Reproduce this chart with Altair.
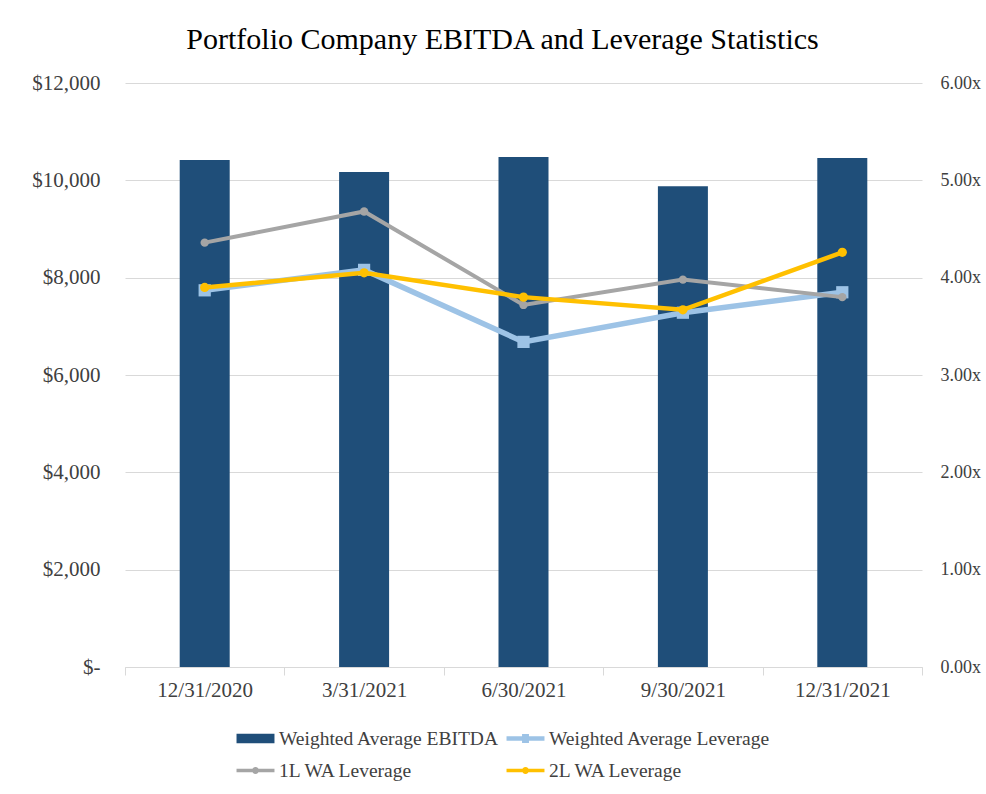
import altair as alt
import pandas as pd

dates = ["12/31/2020", "3/31/2021", "6/30/2021", "9/30/2021", "12/31/2021"]
ebitda = [10420, 10170, 10480, 9880, 10460]
wa_lev = [3.87, 4.08, 3.34, 3.64, 3.85]
lev_1l = [4.36, 4.68, 3.72, 3.98, 3.80]
lev_2l = [3.90, 4.05, 3.80, 3.67, 4.26]

series = ["Weighted Average EBITDA", "Weighted Average Leverage", "1L WA Leverage", "2L WA Leverage"]
colors = ["#1F4E79", "#9DC3E6", "#A5A5A5", "#FFC000"]

df = pd.DataFrame({
    "date": dates,
    "ebitda": ebitda,
    "wa": wa_lev,
    "l1": lev_1l,
    "l2": lev_2l,
})
legend_df = pd.DataFrame({"series": series})

FONT = "Liberation Serif"
LABEL_COLOR = "#404040"
GRID = "#D9D9D9"

x_enc = alt.X(
    "date:N",
    sort=dates,
    scale=alt.Scale(paddingInner=0, paddingOuter=0),
    axis=alt.Axis(
        title=None, labelAngle=0, labelFont=FONT, labelFontSize=21, labelColor=LABEL_COLOR,
        tickBand="extent", ticks=True, tickSize=8, tickColor=GRID, domainColor=GRID,
        labelPadding=4, grid=False,
    ),
)

# legend symbol paths (unit = sqrt(symbolSize)/2 px)
shape_paths = [
    "M-1.65,-0.42H1.65V0.42H-1.65Z",
    "M-1.65,-0.2H1.65V0.2H-1.65Z M-0.3,-0.4H0.3V0.4H-0.3Z",
    "M-1.65,-0.15H1.65V0.15H-1.65Z M-0.3,0A0.3,0.3 0 1,1 0.3,0A0.3,0.3 0 1,1 -0.3,0Z",
    "M-1.65,-0.15H1.65V0.15H-1.65Z M-0.3,0A0.3,0.3 0 1,1 0.3,0A0.3,0.3 0 1,1 -0.3,0Z",
]

legend = alt.Legend(
    title=None, orient="none", legendX=119, legendY=644, columns=2, direction="horizontal",
    padding=0, labelFont=FONT, labelFontSize=19.5, labelColor=LABEL_COLOR, labelLimit=0,
    symbolSize=529, rowPadding=11, columnPadding=6, labelOffset=12,
    symbolStrokeWidth=0, symbolOpacity=1,
)

legend_layer = alt.Chart(legend_df).transform_filter("false").mark_point(filled=True, opacity=1).encode(
    color=alt.Color("series:N", scale=alt.Scale(domain=series, range=colors), legend=legend),
    shape=alt.Shape("series:N", scale=alt.Scale(domain=series, range=shape_paths), legend=legend),
)

bars = alt.Chart(df).mark_bar(width=50, color=colors[0]).encode(
    x=x_enc,
    y=alt.Y(
        "ebitda:Q",
        scale=alt.Scale(domain=[0, 12000]),
        axis=alt.Axis(
            title=None, orient="left", values=[0, 2000, 4000, 6000, 8000, 10000, 12000],
            labelExpr="datum.value == 0 ? '$-' : '$' + format(datum.value, ',')",
            labelFont=FONT, labelFontSize=21, labelColor=LABEL_COLOR, labelPadding=25,
            domain=False, ticks=False, grid=True, gridColor=GRID, gridWidth=1,
        ),
    ),
)

right_axis = alt.Axis(
    title=None, orient="right", values=[0, 1, 2, 3, 4, 5, 6],
    labelExpr="format(datum.value, '.2f') + 'x'",
    labelFont=FONT, labelFontSize=18, labelColor=LABEL_COLOR, labelPadding=18,
    domain=False, ticks=False, grid=False,
)
yscale = alt.Scale(domain=[0, 6])

base = alt.Chart(df)
blue_line = base.mark_line(color=colors[1], strokeWidth=5.5).encode(
    x=x_enc, y=alt.Y("wa:Q", scale=yscale, axis=right_axis))
blue_pts = base.mark_point(shape="square", filled=True, size=150, color=colors[1], opacity=1).encode(
    x=x_enc, y=alt.Y("wa:Q", scale=yscale, axis=right_axis))
gray_line = base.mark_line(color=colors[2], strokeWidth=4).encode(
    x=x_enc, y=alt.Y("l1:Q", scale=yscale, axis=right_axis))
gray_pts = base.mark_point(shape="circle", filled=True, size=70, color=colors[2], opacity=1).encode(
    x=x_enc, y=alt.Y("l1:Q", scale=yscale, axis=right_axis))
gold_line = base.mark_line(color=colors[3], strokeWidth=4.5).encode(
    x=x_enc, y=alt.Y("l2:Q", scale=yscale, axis=right_axis))
gold_pts = base.mark_point(shape="circle", filled=True, size=85, color=colors[3], opacity=1).encode(
    x=x_enc, y=alt.Y("l2:Q", scale=yscale, axis=right_axis))

lines = alt.layer(blue_line, blue_pts, gray_line, gray_pts, gold_line, gold_pts)

chart = alt.layer(bars, lines, legend_layer).resolve_scale(y="independent").properties(
    width=797,
    height=584,
    autosize=alt.AutoSizeParams(type="none"),
    padding={"left": 125, "top": 83, "right": 64, "bottom": 127},
    title=alt.TitleParams(
        "Portfolio Company EBITDA and Leverage Statistics",
        font=FONT, fontSize=30, fontWeight="normal", color="#000000",
        anchor="middle", offset=17, dx=-21,
    ),
    background="white",
).configure_view(stroke=None)

chart.save("out.html", embed_options={"renderer": "svg", "actions": False})
